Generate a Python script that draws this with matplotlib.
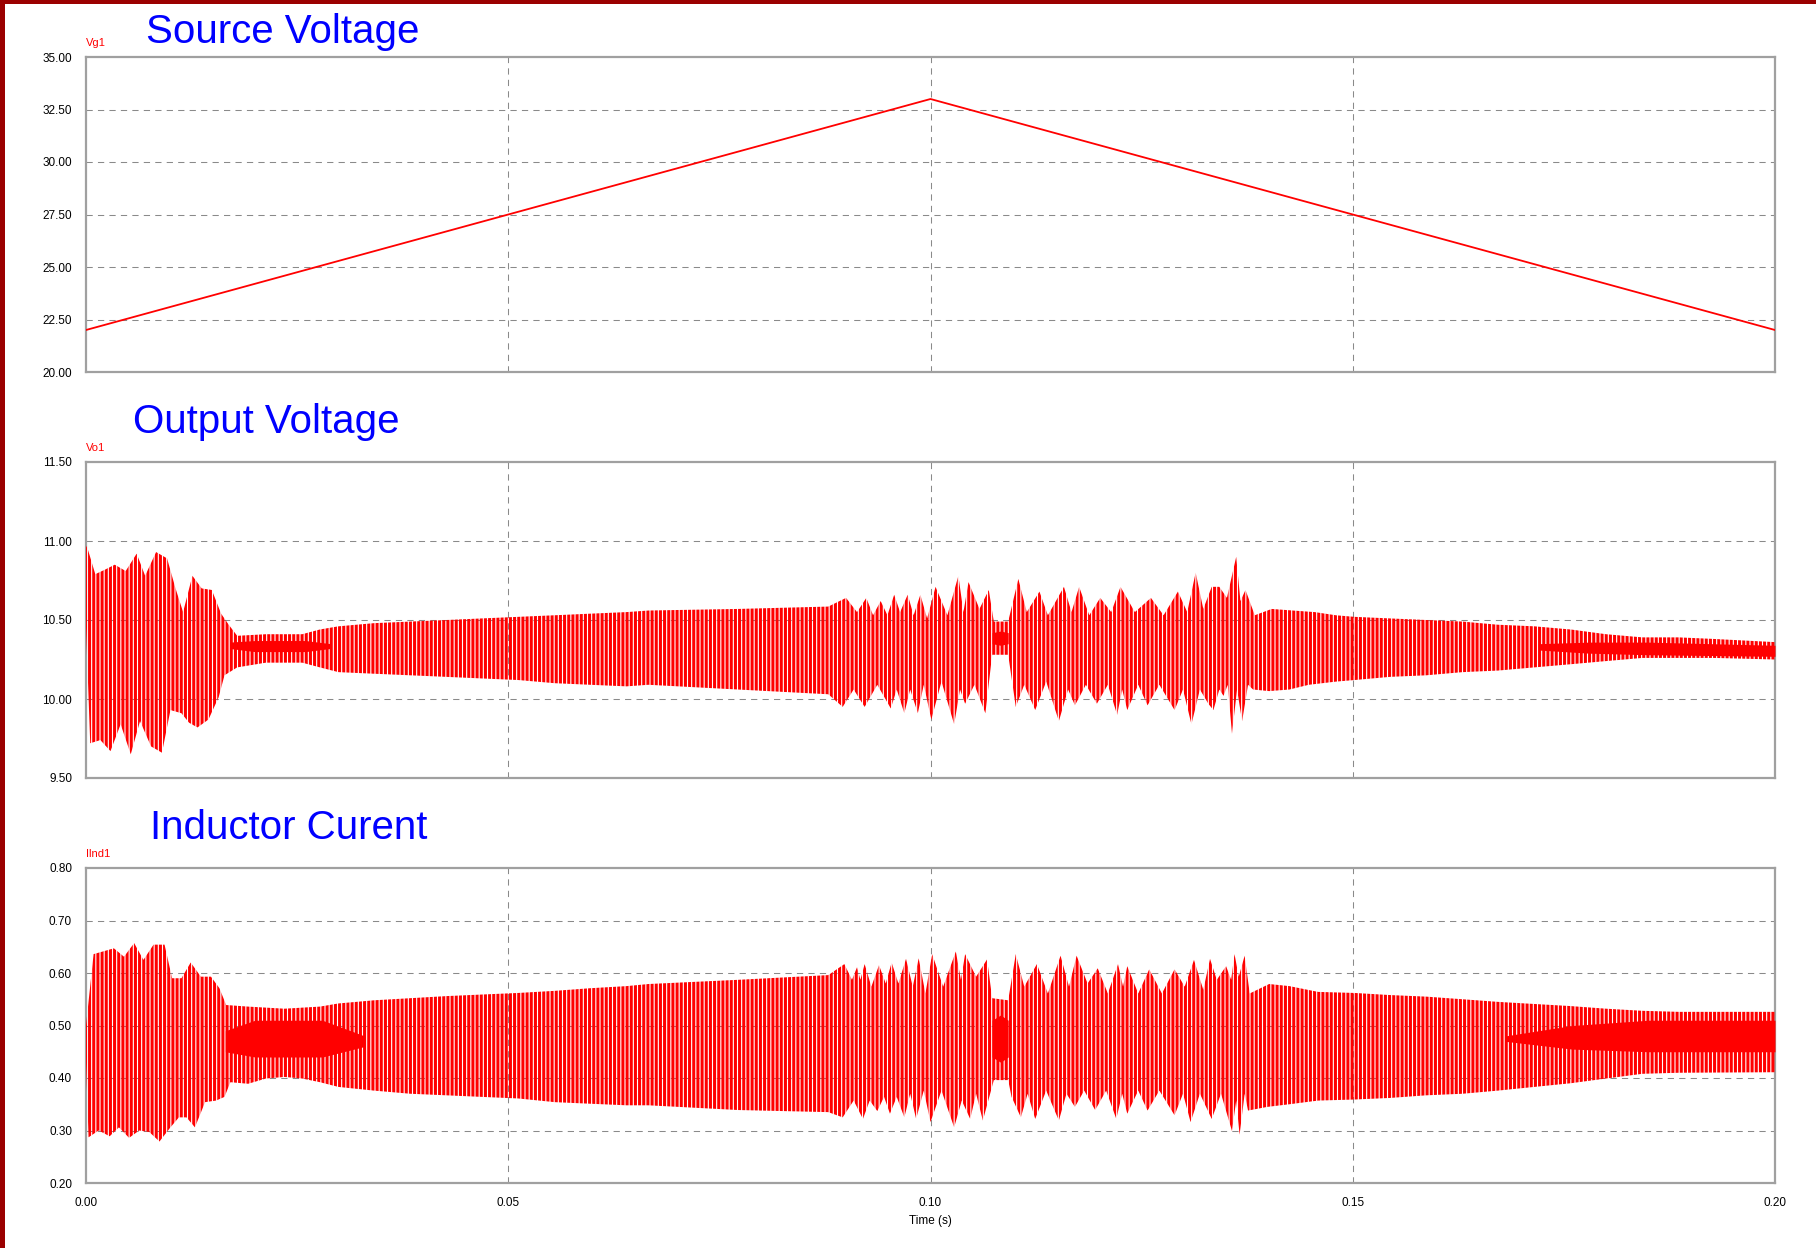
import numpy as np
import matplotlib
matplotlib.use("Agg")
import matplotlib.pyplot as plt
from matplotlib.patches import Rectangle

# ---------------- data ----------------
vg_t = [0.0, 0.10, 0.20]
vg_v = [22.0, 33.0, 22.0]

# Output voltage Vo1: upper / lower envelope of the switching ripple
vo_up_t = [0.0, 0.0002, 0.0011, 0.0023, 0.0034, 0.0047, 0.0060, 0.0070, 0.0083, 0.0096,
           0.0106, 0.0115, 0.0126, 0.0137, 0.0149, 0.0160, 0.0169, 0.0179, 0.0213, 0.0256,
           0.0277, 0.0299, 0.0341, 0.0384, 0.0427, 0.0469, 0.0512, 0.0555, 0.0597, 0.0640,
           0.0666, 0.0772, 0.0879, 0.0900, 0.0913, 0.0924, 0.0932, 0.0941, 0.0949, 0.0957,
           0.0964, 0.0973, 0.0980, 0.0988, 0.0996, 0.1006, 0.1020, 0.1033, 0.1039, 0.1045,
           0.1058, 0.1069, 0.1075, 0.1092, 0.1104, 0.1114, 0.1129, 0.1139, 0.1158, 0.1167,
           0.1176, 0.1188, 0.1201, 0.1214, 0.1225, 0.1242, 0.1261, 0.1276, 0.1293, 0.1304,
           0.1314, 0.1323, 0.1333, 0.1342, 0.1351, 0.1362, 0.1367, 0.1373, 0.1384, 0.1404,
           0.1429, 0.1455, 0.1480, 0.1502, 0.1544, 0.1587, 0.1630, 0.1672, 0.1715, 0.1758,
           0.1800, 0.1843, 0.1886, 0.1928, 0.2000]
vo_up = [10.97, 10.95, 10.79, 10.82, 10.85, 10.81, 10.92, 10.78, 10.93, 10.89,
         10.70, 10.55, 10.78, 10.70, 10.69, 10.54, 10.47, 10.40, 10.41, 10.41,
         10.44, 10.46, 10.48, 10.49, 10.50, 10.51, 10.52, 10.53, 10.54, 10.55,
         10.56, 10.57, 10.585, 10.64, 10.55, 10.64, 10.53, 10.62, 10.53, 10.66,
         10.55, 10.66, 10.53, 10.66, 10.51, 10.71, 10.53, 10.78, 10.55, 10.74,
         10.57, 10.69, 10.49, 10.49, 10.76, 10.55, 10.68, 10.53, 10.71, 10.55,
         10.71, 10.53, 10.64, 10.55, 10.71, 10.55, 10.64, 10.53, 10.68, 10.55,
         10.80, 10.57, 10.71, 10.71, 10.64, 10.90, 10.62, 10.69, 10.53, 10.57,
         10.56, 10.55, 10.53, 10.52, 10.51, 10.50, 10.49, 10.47, 10.46, 10.44,
         10.41, 10.39, 10.39, 10.38, 10.36]
vo_lo_t = [0.0, 0.0005, 0.0017, 0.0029, 0.0041, 0.0053, 0.0064, 0.0077, 0.0090, 0.0100,
           0.0113, 0.0122, 0.0132, 0.0145, 0.0157, 0.0164, 0.0179, 0.0213, 0.0256, 0.0277,
           0.0299, 0.0341, 0.0384, 0.0427, 0.0469, 0.0512, 0.0555, 0.0597, 0.0640, 0.0666,
           0.0772, 0.0879, 0.0896, 0.0909, 0.0922, 0.0937, 0.0953, 0.0960, 0.0969, 0.0976,
           0.0985, 0.0992, 0.1001, 0.1013, 0.1028, 0.1035, 0.1041, 0.1052, 0.1065, 0.1073,
           0.1092, 0.1101, 0.1111, 0.1124, 0.1137, 0.1152, 0.1163, 0.1171, 0.1184, 0.1197,
           0.1210, 0.1221, 0.1227, 0.1233, 0.1246, 0.1257, 0.1271, 0.1289, 0.1299, 0.1309,
           0.1319, 0.1329, 0.1335, 0.1342, 0.1347, 0.1352, 0.1357, 0.1363, 0.1369, 0.1376,
           0.1382, 0.1401, 0.1425, 0.1448, 0.1480, 0.1502, 0.1544, 0.1587, 0.1630, 0.1672,
           0.1715, 0.1758, 0.1800, 0.1843, 0.1886, 0.1928, 0.2000]
vo_lo = [10.45, 9.72, 9.74, 9.67, 9.84, 9.65, 9.86, 9.70, 9.66, 9.93,
         9.91, 9.85, 9.82, 9.87, 10.01, 10.15, 10.20, 10.23, 10.23, 10.20,
         10.17, 10.16, 10.15, 10.14, 10.13, 10.12, 10.10, 10.09, 10.08, 10.09,
         10.06, 10.03, 9.95, 10.06, 9.95, 10.09, 9.94, 10.06, 9.91, 10.06,
         9.91, 10.09, 9.87, 10.11, 9.84, 10.06, 9.97, 10.09, 9.91, 10.28,
         10.28, 9.95, 10.09, 9.93, 10.11, 9.86, 10.06, 9.96, 10.09, 9.97,
         10.09, 9.90, 10.06, 9.93, 10.09, 9.96, 10.09, 9.93, 10.06, 9.84,
         10.06, 9.97, 9.93, 10.06, 10.02, 10.09, 9.78, 10.06, 9.86, 10.09,
         10.06, 10.05, 10.06, 10.09, 10.11, 10.12, 10.14, 10.15, 10.17, 10.18,
         10.20, 10.22, 10.24, 10.26, 10.26, 10.26, 10.25]
# densely packed (solid looking) parts of Vo1
vo_core_t = [[0.0170, 0.0200, 0.0260, 0.0290],
             [0.1073, 0.1083, 0.1092],
             [0.1720, 0.1780, 0.1850, 0.2000]]
vo_core_lo = [[10.32, 10.30, 10.30, 10.32], [10.35, 10.34, 10.35], [10.31, 10.29, 10.28, 10.27]]
vo_core_hi = [[10.36, 10.37, 10.37, 10.35], [10.42, 10.43, 10.42], [10.35, 10.36, 10.36, 10.34]]

# Inductor current Ilnd1
il_up_t = [0.0, 0.0009, 0.0020, 0.0033, 0.0045, 0.0057, 0.0068, 0.0080, 0.0093, 0.0102,
           0.0113, 0.0124, 0.0136, 0.0148, 0.0158, 0.0166, 0.0192, 0.0235, 0.0277, 0.0299,
           0.0341, 0.0384, 0.0427, 0.0469, 0.0512, 0.0555, 0.0597, 0.0640, 0.0666, 0.0772,
           0.0879, 0.0898, 0.0907, 0.0913, 0.0917, 0.0922, 0.0930, 0.0939, 0.0947, 0.0954,
           0.0962, 0.0971, 0.0979, 0.0986, 0.0994, 0.1002, 0.1015, 0.1030, 0.1036, 0.1041,
           0.1054, 0.1067, 0.1073, 0.1092, 0.1101, 0.1111, 0.1126, 0.1139, 0.1154, 0.1164,
           0.1173, 0.1186, 0.1198, 0.1210, 0.1222, 0.1228, 0.1233, 0.1246, 0.1259, 0.1274,
           0.1289, 0.1301, 0.1312, 0.1323, 0.1331, 0.1339, 0.1350, 0.1356, 0.1360, 0.1365,
           0.1372, 0.1378, 0.1401, 0.1425, 0.1459, 0.1502, 0.1544, 0.1587, 0.1630, 0.1672,
           0.1715, 0.1758, 0.1800, 0.1843, 0.1886, 0.2000]
il_up = [0.500, 0.636, 0.641, 0.647, 0.631, 0.657, 0.625, 0.654, 0.654, 0.590,
         0.590, 0.620, 0.593, 0.593, 0.571, 0.539, 0.536, 0.532, 0.536, 0.542,
         0.548, 0.552, 0.556, 0.559, 0.562, 0.566, 0.571, 0.575, 0.579, 0.587,
         0.596, 0.617, 0.587, 0.611, 0.587, 0.617, 0.574, 0.615, 0.580, 0.620,
         0.580, 0.627, 0.574, 0.628, 0.561, 0.636, 0.574, 0.641, 0.587, 0.636,
         0.593, 0.626, 0.552, 0.548, 0.636, 0.574, 0.617, 0.561, 0.633, 0.574,
         0.633, 0.580, 0.609, 0.561, 0.617, 0.574, 0.613, 0.561, 0.607, 0.561,
         0.607, 0.574, 0.625, 0.568, 0.627, 0.587, 0.613, 0.587, 0.636, 0.593,
         0.633, 0.561, 0.579, 0.575, 0.564, 0.562, 0.558, 0.555, 0.550, 0.545,
         0.541, 0.537, 0.532, 0.528, 0.526, 0.526]
il_lo_t = [0.0, 0.0003, 0.0015, 0.0028, 0.0039, 0.0051, 0.0063, 0.0075, 0.0087, 0.0100,
           0.0110, 0.0119, 0.0129, 0.0141, 0.0154, 0.0164, 0.0171, 0.0192, 0.0213, 0.0235,
           0.0256, 0.0277, 0.0299, 0.0341, 0.0384, 0.0427, 0.0469, 0.0512, 0.0555, 0.0597,
           0.0640, 0.0666, 0.0772, 0.0879, 0.0896, 0.0909, 0.0920, 0.0928, 0.0937, 0.0945,
           0.0952, 0.0960, 0.0969, 0.0976, 0.0983, 0.0992, 0.1000, 0.1013, 0.1028, 0.1037,
           0.1047, 0.1054, 0.1062, 0.1075, 0.1092, 0.1096, 0.1107, 0.1115, 0.1124, 0.1137,
           0.1152, 0.1161, 0.1171, 0.1182, 0.1195, 0.1208, 0.1220, 0.1227, 0.1233, 0.1246,
           0.1257, 0.1271, 0.1289, 0.1299, 0.1308, 0.1319, 0.1333, 0.1344, 0.1357, 0.1362,
           0.1366, 0.1372, 0.1376, 0.1399, 0.1425, 0.1459, 0.1502, 0.1544, 0.1587, 0.1630,
           0.1672, 0.1715, 0.1758, 0.1800, 0.1843, 0.1886, 0.2000]
il_lo = [0.430, 0.287, 0.300, 0.289, 0.306, 0.286, 0.300, 0.297, 0.279, 0.306,
         0.325, 0.325, 0.306, 0.354, 0.357, 0.364, 0.392, 0.389, 0.399, 0.402,
         0.399, 0.392, 0.383, 0.376, 0.370, 0.367, 0.364, 0.361, 0.354, 0.351,
         0.348, 0.348, 0.339, 0.335, 0.325, 0.357, 0.322, 0.357, 0.337, 0.364,
         0.332, 0.364, 0.325, 0.370, 0.322, 0.376, 0.316, 0.376, 0.306, 0.357,
         0.322, 0.370, 0.319, 0.396, 0.396, 0.364, 0.325, 0.370, 0.322, 0.376,
         0.319, 0.370, 0.345, 0.376, 0.339, 0.376, 0.322, 0.370, 0.332, 0.376,
         0.338, 0.376, 0.329, 0.370, 0.316, 0.370, 0.322, 0.370, 0.299, 0.357,
         0.292, 0.370, 0.338, 0.345, 0.350, 0.357, 0.359, 0.362, 0.367, 0.370,
         0.376, 0.383, 0.390, 0.399, 0.408, 0.410, 0.411]
il_core_t = [[0.0165, 0.0200, 0.0280, 0.0330],
             [0.1073, 0.1083, 0.1092],
             [0.1680, 0.1760, 0.1850, 0.2000]]
il_core_lo = [[0.45, 0.44, 0.44, 0.46], [0.44, 0.43, 0.44], [0.47, 0.455, 0.45, 0.45]]
il_core_hi = [[0.49, 0.51, 0.51, 0.48], [0.51, 0.52, 0.51], [0.48, 0.50, 0.51, 0.51]]

titles = ["Source Voltage", "Output Voltage", "Inductor Curent"]
signal_names = ["Vg1", "Vo1", "Ilnd1"]
y_limits = [(20.0, 35.0), (9.5, 11.5), (0.2, 0.8)]
y_ticks = [np.arange(20.0, 35.01, 2.5), np.arange(9.5, 11.51, 0.5), np.arange(0.2, 0.801, 0.1)]
x_ticks = [0.0, 0.05, 0.10, 0.15, 0.20]

# ---------------- figure ----------------
W, H = 1816, 1248
plt.rcParams["font.family"] = ["Liberation Sans", "DejaVu Sans"]
plt.rcParams["hatch.linewidth"] = 2.2
plt.rcParams["hatch.color"] = "#ff0000"
fig = plt.figure(figsize=(W / 100, H / 100), dpi=100, facecolor="white")

def fx(px):
    return px / W

def fy(py):
    return 1 - py / H

axes_px = [(86, 57, 1775, 372), (86, 462, 1775, 778), (86, 868, 1775, 1183)]
title_px = [(146, 32), (133, 422), (150, 828)]
RED = "#ff0000"
GRID = "#8a8a8a"

axes = []
for i, (l, t, r, b) in enumerate(axes_px):
    ax = fig.add_axes([fx(l), fy(b), fx(r - l), (b - t) / H])
    ax.set_xlim(0, 0.2)
    ax.set_ylim(*y_limits[i])
    ax.set_xticks(x_ticks)
    ax.set_yticks(y_ticks[i])
    ax.set_yticklabels([f"{v:.2f}" for v in y_ticks[i]])
    if i == 2:
        ax.set_xticklabels([f"{v:.2f}" for v in x_ticks])
    else:
        ax.set_xticklabels([])
    ax.tick_params(length=0, labelsize=8.5, colors="black", pad=10)
    for s in ax.spines.values():
        s.set_color("#a0a0a0")
        s.set_linewidth(1.6)
    for yv in y_ticks[i][1:-1]:
        ax.axhline(yv, color=GRID, lw=0.75, ls=(0, (6, 5)), zorder=1)
    for xv in x_ticks[1:-1]:
        ax.axvline(xv, color=GRID, lw=0.75, ls=(0, (6, 5)), zorder=1)
    fig.text(fx(title_px[i][0]), fy(title_px[i][1]), titles[i], color="#0000ff",
             fontsize=29, ha="left", va="center")
    fig.text(fx(l), fy(t - 14), signal_names[i], color=RED, fontsize=8,
             ha="left", va="center")
    axes.append(ax)

# Source voltage
axes[0].plot(vg_t, vg_v, color=RED, lw=1.3, zorder=3)

def ripple(ax, up_t, up, lo_t, lo, core_t, core_lo, core_hi):
    px = np.r_[np.asarray(up_t), np.asarray(lo_t)[::-1]]
    py = np.r_[np.asarray(up), np.asarray(lo)[::-1]]
    ax.fill(px, py, facecolor="none", edgecolor=RED, hatch="||||", linewidth=0, zorder=3)
    for ct, cl, ch in zip(core_t, core_lo, core_hi):
        ax.fill_between(ct, cl, ch, color=RED, linewidth=0, zorder=3)

ripple(axes[1], vo_up_t, vo_up, vo_lo_t, vo_lo, vo_core_t, vo_core_lo, vo_core_hi)
ripple(axes[2], il_up_t, il_up, il_lo_t, il_lo, il_core_t, il_core_lo, il_core_hi)

fig.text(fx(930), fy(1221), "Time (s)", fontsize=8.5, ha="center", va="center")

# dark red frame on the top and left edges
fig.patches.append(Rectangle((0, 0), fx(5), 1, transform=fig.transFigure,
                             facecolor="#9b0000", edgecolor="none", zorder=10))
fig.patches.append(Rectangle((0, fy(4)), 1, 4 / H, transform=fig.transFigure,
                             facecolor="#9b0000", edgecolor="none", zorder=10))

fig.savefig("out.png", dpi=100, facecolor="white")
